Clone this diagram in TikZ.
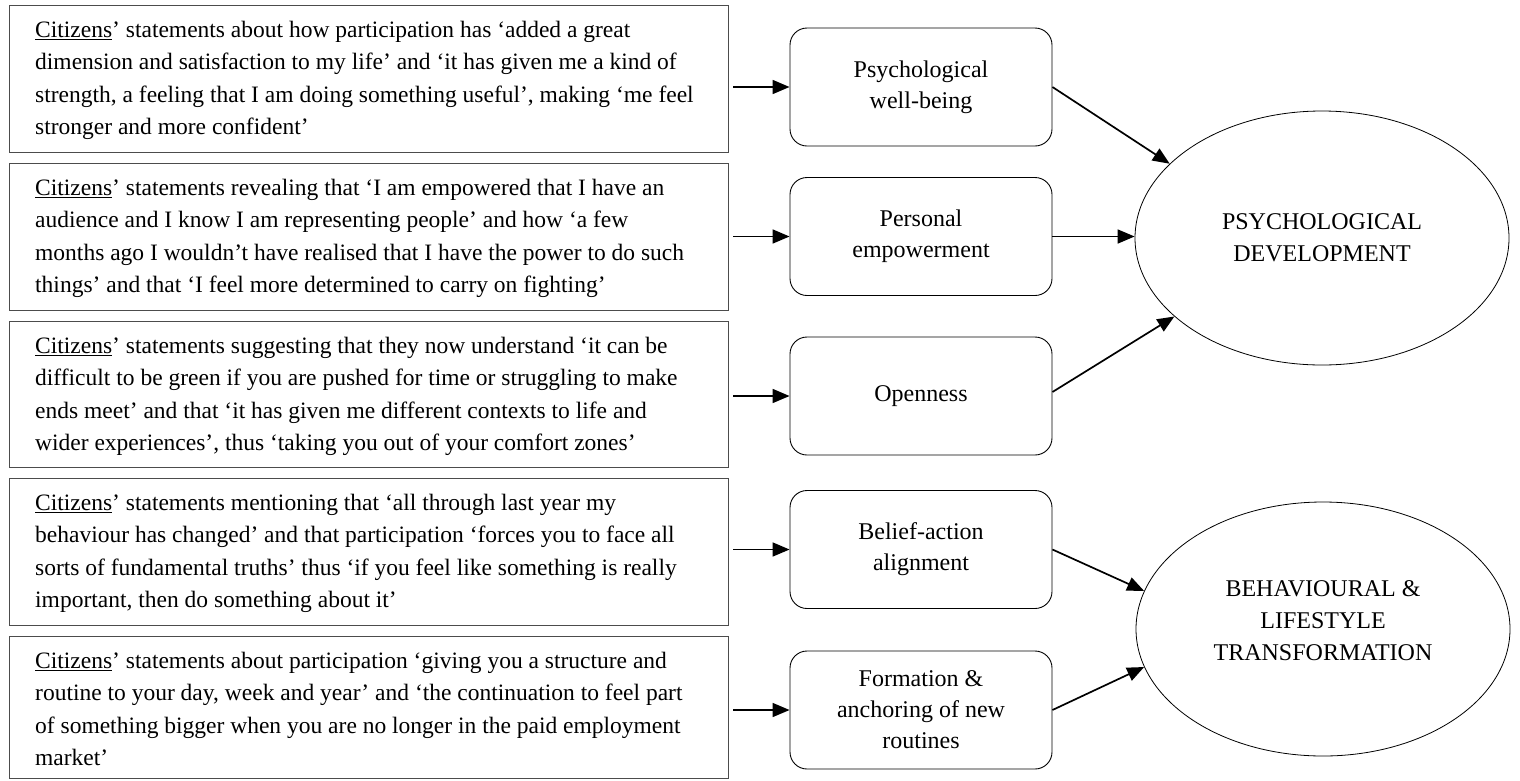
\documentclass[tikz,border=0pt]{standalone}
\usepackage{fontspec}
\setmainfont{Liberation Serif}
\usetikzlibrary{arrows.meta,shapes.geometric,calc}
\begin{document}
\begin{tikzpicture}[x=1pt,y=-1pt,
  leftbox/.style={draw=black!70, line width=1.1pt, minimum width=719pt, anchor=north west, inner sep=0pt},
  quotetext/.style={anchor=north west, align=left, inner sep=0pt, font=\fontsize{23.5}{32.3}\selectfont},
  midbox/.style={draw, rounded corners=17pt, minimum width=262pt, minimum height=118pt, align=center, line width=0.9pt, inner sep=0pt, font=\fontsize{24}{31}\selectfont},
  goal/.style={draw, ellipse, minimum width=374pt, minimum height=254pt, align=center, line width=0.8pt, inner sep=0pt, font=\fontsize{24}{32}\selectfont},
  arr/.style={-{Triangle[length=17pt,width=14pt]}, line width=1.7pt}
]
\useasboundingbox (0,0) rectangle (1520,780);

% left quote boxes
\node[leftbox, minimum height=147pt] (l1) at (9,5) {};
\node[leftbox, minimum height=147pt] (l2) at (9,163) {};
\node[leftbox, minimum height=146pt] (l3) at (9,321) {};
\node[leftbox, minimum height=147pt] (l4) at (9,478) {};
\node[leftbox, minimum height=142pt] (l5) at (9,636) {};

\node[quotetext] (t1) at ($(l1.north west)+(26,16)$) {\underline{Citizens}’ statements about how participation has ‘added a great\\dimension and satisfaction to my life’ and ‘it has given me a kind of\\strength, a feeling that I am doing something useful’, making ‘me feel\\stronger and more confident’};
\node[quotetext] (t2) at ($(l2.north west)+(26,16)$) {\underline{Citizens}’ statements revealing that ‘I am empowered that I have an\\audience and I know I am representing people’ and how ‘a few\\months ago I wouldn’t have realised that I have the power to do such\\things’ and that ‘I feel more determined to carry on fighting’};
\node[quotetext] (t3) at ($(l3.north west)+(26,16)$) {\underline{Citizens}’ statements suggesting that they now understand ‘it can be\\difficult to be green if you are pushed for time or struggling to make\\ends meet’ and that ‘it has given me different contexts to life and\\wider experiences’, thus ‘taking you out of your comfort zones’};
\node[quotetext] (t4) at ($(l4.north west)+(26,16)$) {\underline{Citizens}’ statements mentioning that ‘all through last year my\\behaviour has changed’ and that participation ‘forces you to face all\\sorts of fundamental truths’ thus ‘if you feel like something is really\\important, then do something about it’};
\node[quotetext] (t5) at ($(l5.north west)+(26,16)$) {\underline{Citizens}’ statements about participation ‘giving you a structure and\\routine to your day, week and year’ and ‘the continuation to feel part\\of something bigger when you are no longer in the paid employment\\market’};

% middle rounded boxes
\node[midbox] (r1) at (921,87) {Psychological\\well-being};
\node[midbox] (r2) at (921,236.5) {Personal\\empowerment};
\node[midbox] (r3) at (921,396) {Openness};
\node[midbox] (r4) at (921,549.5) {Belief-action\\alignment};
\node[midbox] (r5) at (921,710) {Formation \&\\anchoring of new\\routines};

% outcome ellipses
\node[goal] (e1) at (1322,238) {PSYCHOLOGICAL\\DEVELOPMENT};
\node[goal] (e2) at (1323,629) {BEHAVIOURAL \&\\LIFESTYLE\\TRANSFORMATION\\[-16pt]};

% arrows left -> middle
\foreach \i in {1,...,5}{
  \draw[arr] ($(l\i.east |- r\i.west)+(4,0)$) -- (r\i.west);
}

% arrows middle -> outcomes
\draw[arr] (r1.east) -- (e1.154);
\draw[arr] (r2.east) -- (r2.east -| e1.west);
\draw[arr] ([yshift=4pt]r3.east) -- (e1.208);
\draw[arr] (r4.east) -- (e2.168);
\draw[arr] (r5.east) -- (e2.192);
\end{tikzpicture}
\end{document}
